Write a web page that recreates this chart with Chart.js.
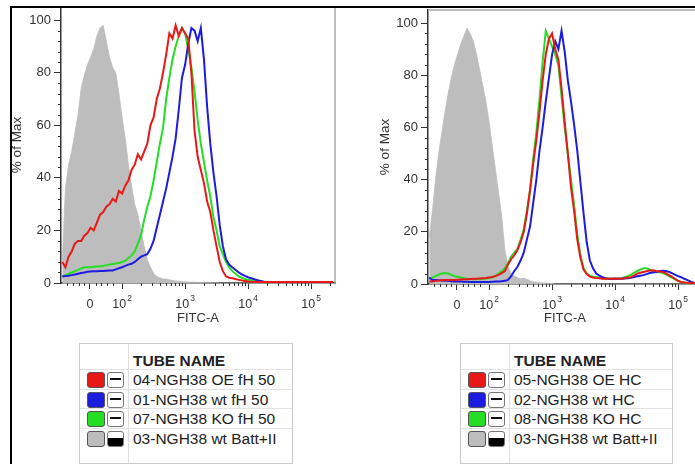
<!DOCTYPE html>
<html>
<head>
<meta charset="utf-8">
<script src="https://cdn.jsdelivr.net/npm/chart.js@4.4.0/dist/chart.umd.min.js"></script>
<style>
  html, body { margin: 0; padding: 0; background: #fff; }
  body { width: 695px; height: 464px; overflow: hidden; position: relative; font-family: "Liberation Sans", Arial, sans-serif; }
  canvas { position: absolute; }
  #histLeft { left: 0; top: 0; }
  #histRight { left: 345px; top: 0; }
  .rule { position: absolute; background: #000; z-index: 5; }
  .legend { position: absolute; top: 343px; height: 119px; border: 1px solid #c9c9c9; background: #fff; color: #222; }
  .legend .sep { position: absolute; left: 48px; top: 0; bottom: 0; width: 1px; background: #dedede; }
  .legend .hdr { position: absolute; left: 53px; top: 8px; font-weight: bold; font-size: 15.5px; line-height: 17px; }
  .legend .row { position: absolute; left: 0; right: 0; height: 19px; border-top: 1px solid #e2e2e2; }
  .legend .sw { position: absolute; left: 7px; top: 2px; width: 16px; height: 14px; border: 1px solid #555; border-radius: 3px; }
  .legend .ic { position: absolute; left: 27px; top: 2px; width: 15px; height: 14px; border: 1px solid #777; border-radius: 3px; background: #fff; }
  .legend .ic::after { content: ''; position: absolute; left: 2px; right: 2px; top: 5px; height: 2px; background: #111; }
  .legend .ic.filled { background: linear-gradient(#fff 45%, #000 45%); }
  .legend .ic.filled::after { display: none; }
  .legend .txt { position: absolute; left: 53px; top: 0; font-size: 15.5px; line-height: 19px; white-space: nowrap; }
</style>
</head>
<body>
<canvas id="histLeft" width="340" height="340" style="width:340px;height:340px"></canvas>
<canvas id="histRight" width="365" height="340" style="width:365px;height:340px"></canvas>
<div class="rule" style="left:10px;top:6px;width:685px;height:2px"></div>
<div class="rule" style="left:10px;top:6px;width:2px;height:458px"></div>
<div class="legend" id="legendLeft" style="left:79px;width:212px"></div>
<div class="legend" id="legendRight" style="left:460px;width:211px"></div>
<script>
// FITC-A position in display decades (2 = 10^2, 3 = 10^3 ...), sampled along the axis
const fitcPos = [
  1.05, 1.10, 1.15, 1.20, 1.25, 1.30, 1.35, 1.40, 1.45, 1.50,
  1.55, 1.60, 1.65, 1.70, 1.75, 1.80, 1.85, 1.90, 1.95, 2.00,
  2.05, 2.10, 2.15, 2.20, 2.25, 2.30, 2.35, 2.40, 2.45, 2.50,
  2.55, 2.60, 2.65, 2.70, 2.75, 2.80, 2.85, 2.90, 2.95, 3.00,
  3.05, 3.10, 3.15, 3.20, 3.25, 3.30, 3.35, 3.40, 3.45, 3.50,
  3.55, 3.60, 3.65, 3.70, 3.75, 3.80, 3.85, 3.90, 3.95, 4.00,
  4.05, 4.10, 4.15, 4.20, 4.25, 4.30, 4.35, 4.40, 4.45, 4.50,
  4.55, 4.60, 4.65, 4.70, 4.75, 4.80, 4.85, 4.90, 4.95, 5.00,
  5.05, 5.10, 5.15, 5.20, 5.25, 5.30, 5.35
];

// left panel (fH 50), % of Max
const leftOE = [
  8, 6, 10, 12, 15, 16, 16, 18, 19, 21,
  20, 23, 26, 27, 29, 30, 32, 31, 35, 34,
  37, 39, 43, 45, 49, 47, 50, 53, 60, 63,
  70, 74, 80, 87, 95, 93, 98, 94, 97, 95,
  93, 80, 58, 48, 43, 38, 31, 27, 20, 14,
  8, 4.5, 2.5, 2, 1.8, 1.5, 1.2, 1, 0.8, 0.6,
  0.5, 0.4, 0.4, 0.4, 0.4, 0.4, 0.4, 0.4, 0.4, 0.4,
  0.4, 0.4, 0.4, 0.4, 0.4, 0.4, 0.4, 0.4, 0.4, 0.4,
  0.4, 0.4, 0.4, 0.4, 0.4, 0.4, 0.4
];
const leftWt = [
  2.5, 2.7, 2.8, 3, 3.2, 3.5, 3.8, 4, 4.3, 4.4,
  4.5, 4.5, 4.6, 4.6, 4.7, 4.8, 4.8, 5.2, 5.6, 6,
  6.5, 7, 7.3, 8, 9, 10, 10.5, 11, 13, 16,
  21, 26, 31, 36, 42, 48, 55, 66, 78, 83,
  91, 97, 96, 92, 97, 85, 67, 53, 42, 33,
  22, 14, 9, 7, 6, 5, 4, 3.3, 2.7, 2.2,
  1.8, 1.4, 1.1, 0.8, 0.5, 0.4, 0.4, 0.4, 0.4, 0.4,
  0.4, 0.4, 0.4, 0.4, 0.4, 0.4, 0.4, 0.4, 0.4, 0.4,
  0.4, 0.4, 0.4, 0.4, 0.4, 0.4, 0.4
];
const leftKO = [
  2.5, 3, 3.5, 4, 4.5, 5, 5.5, 6, 6, 6,
  6.2, 6.3, 6.4, 6.5, 6.8, 7, 7.2, 7.4, 7.6, 8,
  8.5, 9.5, 10.5, 12, 15, 18, 24, 29, 33, 39,
  46, 53, 59, 70, 78, 85, 90, 94, 97, 95,
  89, 82, 73, 62, 53, 46, 39, 33, 25, 20,
  14, 11, 8, 6, 4.5, 3.5, 2.5, 2, 1.5, 1.2,
  1, 0.8, 0.6, 0.5, 0.5, 0.4, 0.4, 0.4, 0.4, 0.4,
  0.4, 0.4, 0.4, 0.4, 0.4, 0.4, 0.4, 0.4, 0.4, 0.4,
  0.4, 0.4, 0.4, 0.4, 0.4, 0.4, 0.4
];
const leftBatt = [
  8, 36, 45, 50, 57, 64, 74, 79, 83, 86,
  89, 94, 97, 98, 92, 86, 82, 80, 72, 63,
  55, 45, 37, 30, 26, 20, 14, 9, 6, 3.7,
  2.5, 2, 1.5, 1.5, 1.2, 1, 0.8, 0.7, 0.5, 0.5,
  0.4, 0.3, 0.3, 0.2, 0.2, 0.2, 0.1, 0.1, 0.1, 0.1,
  0, 0, 0, 0, 0, 0, 0, 0, 0, 0,
  0, 0, 0, 0, 0, 0, 0, 0, 0, 0,
  0, 0, 0, 0, 0, 0, 0, 0, 0, 0,
  0, 0, 0, 0, 0, 0, 0
];

// right panel (HC), % of Max
const rightOE = [
  1, 1, 1.2, 1.3, 1.4, 1.5, 1.5, 1.5, 1.5, 1.6,
  1.7, 1.8, 1.8, 1.9, 2, 2, 2.1, 2.2, 2.3, 2.5,
  2.7, 3, 3.5, 4.2, 5, 7.5, 9.5, 11, 13, 16,
  20, 27, 36, 46, 55, 66, 78, 88, 94, 96,
  90, 86, 75, 62, 50, 37, 28, 17, 10, 5.5,
  3.8, 2.8, 2.5, 2.3, 2.2, 2, 2, 2, 2, 2.1,
  2, 2, 2.2, 2.5, 2.6, 3.2, 4, 4.3, 4.6, 4.9,
  5.2, 5.3, 5, 4.8, 4.7, 4.2, 3.5, 2.8, 2, 1.2,
  0.8, 0.6, 0.5, 0.4, 0.3, 0.3, 0.3
];
const rightWt = [
  2.5, 1.5, 1.5, 1.4, 1.3, 1.2, 1.2, 1.1, 1, 1,
  1, 0.9, 0.9, 0.8, 0.8, 0.8, 0.8, 0.8, 0.8, 0.8,
  0.9, 1, 1, 1.1, 1.2, 1.6, 3, 5, 6.6, 9,
  12, 17, 22, 31, 40, 51, 60, 70, 79, 88,
  93, 90, 97, 89, 78, 70, 61, 51, 39, 27,
  16, 9, 6, 4, 3.2, 2.6, 2.2, 2, 2, 2,
  2, 2, 2.1, 2.2, 2.4, 2.7, 3, 3.2, 3.4, 3.8,
  4.2, 4.4, 4.6, 4.9, 5.1, 5, 4.7, 4.2, 3.6, 3,
  2.6, 2, 1.5, 0.9, 0.5, 0.4, 0.3
];
const rightKO = [
  2, 2.5, 3, 3.6, 4, 4.2, 4, 3.5, 3, 2.8,
  2.5, 2.2, 2, 1.8, 1.8, 1.8, 1.9, 2, 2.1, 2.3,
  2.6, 3.2, 4, 5, 6, 8, 10.5, 12, 13.5, 17,
  21, 28, 36, 48, 58, 71, 85, 97, 94, 91,
  88, 84, 72, 60, 50, 40, 30, 19, 11, 6,
  4, 3.2, 2.8, 2.6, 2.4, 2.2, 2, 2, 2, 2,
  2.1, 2.2, 2.6, 3, 3.5, 4.3, 5, 5.5, 6, 6,
  5.5, 4.7, 4.5, 4.6, 4.3, 3.8, 3, 2.5, 1.8, 1.2,
  0.8, 0.6, 0.4, 0.4, 0.4, 0.4, 0.4
];
const rightBatt = [
  18, 28, 40, 50, 58, 66, 73, 79, 84, 88,
  92, 95, 98, 96, 93, 88, 82, 76, 70, 62,
  53, 44, 35, 26, 13, 7, 4, 3, 2.5, 2,
  2.2, 1.8, 1.2, 0.9, 0.7, 0.5, 0.4, 0.3, 0.3, 0.2,
  0, 0, 0, 0, 0, 0, 0, 0, 0, 0,
  0, 0, 0, 0, 0, 0, 0, 0, 0, 0,
  0, 0, 0, 0, 0, 0, 0, 0, 0, 0,
  0, 0, 0, 0, 0, 0, 0, 0, 0, 0,
  0, 0, 0, 0, 0, 0, 0
];

const leftTubes = ['04-NGH38 OE fH 50', '01-NGH38 wt fH 50', '07-NGH38 KO fH 50', '03-NGH38 wt Batt+II'];
const rightTubes = ['05-NGH38 OE HC', '02-NGH38 wt HC', '08-NGH38 KO HC', '03-NGH38 wt Batt+II'];
const tubeColors = ['#e81818', '#1c1ce0', '#25dd25', '#bdbdbd'];

// axis ticks
const xTickPos = [1.49, 2, 3, 4, 5];
const xTickBase = ['0', '10', '10', '10', '10'];
const xTickExp = ['', '2', '3', '4', '5'];
const xMinorLinear = [1.12, 1.22, 1.31, 1.40, 1.58, 1.67, 1.76, 1.85];
const yTicks = [0, 20, 40, 60, 80, 100];

const FONT = '"Liberation Sans", Arial, sans-serif';
Chart.defaults.font.family = FONT;
Chart.defaults.color = '#333';

// minor log ticks: 2..9 x 10^k
const xMinor = xMinorLinear.slice();
[2, 3, 4, 5].forEach(k => {
  for (let m = 2; m <= 9; m++) xMinor.push(k + Math.log10(m));
});

const flowAxes = {
  id: 'flowAxes',
  beforeDatasetsDraw(chart) {
    const {ctx, chartArea: a} = chart;
    ctx.save();
    ctx.strokeStyle = '#a8a8a8';
    ctx.lineWidth = 1.5;
    ctx.beginPath();
    ctx.moveTo(a.left, a.top);
    ctx.lineTo(a.right, a.top);
    ctx.lineTo(a.right, a.bottom);
    ctx.stroke();
    ctx.restore();
  },
  afterDraw(chart) {
    const {ctx, chartArea: a, scales: {x, y}} = chart;
    ctx.save();
    ctx.strokeStyle = '#333';
    ctx.lineWidth = 1;
    ctx.beginPath();
    xMinor.forEach(v => {
      if (v < x.min || v > x.max) return;
      const px = Math.round(x.getPixelForValue(v)) + 0.5;
      ctx.moveTo(px, a.bottom);
      ctx.lineTo(px, a.bottom + 3);
    });
    for (let v = 4; v < 104; v += 4) {
      if (v % 20 === 0) continue;
      const py = Math.round(y.getPixelForValue(v)) + 0.5;
      ctx.moveTo(a.left - 3, py);
      ctx.lineTo(a.left, py);
    }
    ctx.stroke();

    // 10^n labels with a raised exponent
    ctx.fillStyle = '#333';
    ctx.textBaseline = 'alphabetic';
    xTickPos.forEach((v, i) => {
      const px = x.getPixelForValue(v);
      ctx.font = '12.5px ' + FONT;
      const wb = ctx.measureText(xTickBase[i]).width;
      ctx.font = '8.5px ' + FONT;
      const we = xTickExp[i] ? ctx.measureText(xTickExp[i]).width + 1 : 0;
      const x0 = px - (wb + we) / 2;
      ctx.font = '12.5px ' + FONT;
      ctx.fillText(xTickBase[i], x0, a.bottom + 25);
      if (we) {
        ctx.font = '8.5px ' + FONT;
        ctx.fillText(xTickExp[i], x0 + wb + 1, a.bottom + 18);
      }
    });
    ctx.restore();
  }
};

function histPanel(canvasId, series, cfg) {
  const datasets = series.map((vals, i) => ({
    label: 'tube ' + i,
    data: vals.map((v, j) => ({x: fitcPos[j], y: v})),
    borderColor: tubeColors[i],
    backgroundColor: tubeColors[i],
    borderWidth: i === 3 ? 0.8 : 2,
    fill: i === 3 ? 'origin' : false,
    pointRadius: 0,
    tension: 0
  }));

  return new Chart(document.getElementById(canvasId), {
    type: 'line',
    data: {datasets},
    plugins: [flowAxes],
    options: {
      responsive: false,
      animation: false,
      layout: {padding: {top: cfg.top, right: cfg.right, left: 0, bottom: 0}},
      plugins: {legend: {display: false}, tooltip: {enabled: false}},
      scales: {
        x: {
          type: 'linear',
          min: 1.03,
          max: 5.38,
          afterBuildTicks: s => { s.ticks = xTickPos.map(v => ({value: v})); },
          afterFit: s => { s.height = cfg.xHeight; s.paddingLeft = 0; s.paddingRight = 0; },
          ticks: {display: false},
          grid: {display: true, drawOnChartArea: false, drawTicks: true, tickLength: 6, tickColor: '#333', tickWidth: 1},
          border: {display: true, color: '#333', width: 1.5},
          title: {display: true, text: 'FITC-A', color: '#333', font: {size: 13}, padding: {top: 0, bottom: 14}}
        },
        y: {
          min: 0,
          max: 105,
          afterBuildTicks: s => { s.ticks = yTicks.map(v => ({value: v})); },
          afterFit: s => { s.width = cfg.yWidth; s.paddingTop = 0; s.paddingBottom = 0; },
          ticks: {color: '#333', font: {size: 13}, padding: 3},
          grid: {display: true, drawOnChartArea: false, drawTicks: true, tickLength: 7, tickColor: '#333', tickWidth: 1},
          border: {display: true, color: '#333', width: 1.5},
          title: {display: true, text: '% of Max', color: '#333', font: {size: 13.5}, padding: {top: cfg.titlePad, bottom: 0}}
        }
      }
    }
  });
}

histPanel('histLeft', [leftOE, leftWt, leftKO, leftBatt], {top: 7, right: 5, xHeight: 57, yWidth: 61, titlePad: 9});
histPanel('histRight', [rightOE, rightWt, rightKO, rightBatt], {top: 10, right: 8, xHeight: 56, yWidth: 83, titlePad: 32});

function buildLegend(el, names) {
  let html = '<div class="sep"></div><div class="hdr">TUBE NAME</div>';
  names.forEach((name, i) => {
    html += '<div class="row" style="top:' + (25 + i * 19.5) + 'px">' +
      '<span class="sw" style="background:' + tubeColors[i] + '"></span>' +
      '<span class="ic' + (i === 3 ? ' filled' : '') + '"></span>' +
      '<span class="txt">' + name + '</span></div>';
  });
  el.innerHTML = html;
}
buildLegend(document.getElementById('legendLeft'), leftTubes);
buildLegend(document.getElementById('legendRight'), rightTubes);
</script>
</body>
</html>
